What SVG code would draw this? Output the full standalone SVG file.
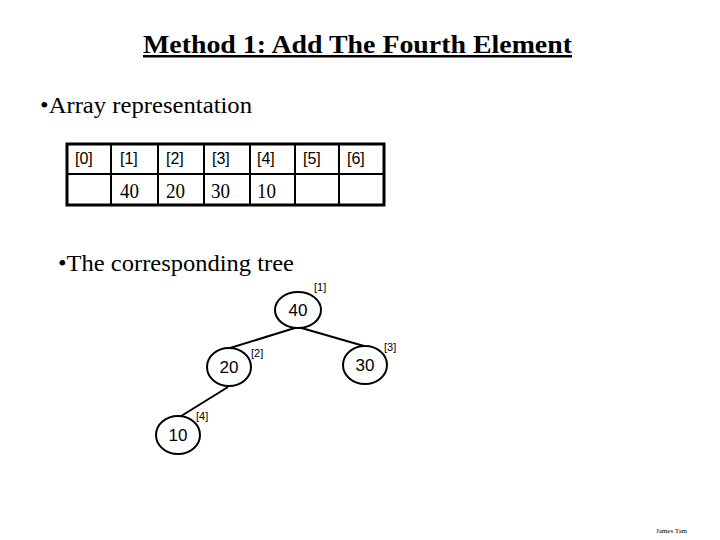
<svg xmlns="http://www.w3.org/2000/svg" width="720" height="540" viewBox="0 0 720 540">
<style>
.serif{font-family:"Liberation Serif","Times New Roman",serif;fill:#000}
.sans{font-family:"Liberation Sans",Arial,sans-serif;fill:#000}
.idx{font-size:16px}
.val{font-size:21px}
.node ellipse{fill:#fff;stroke:#000;stroke-width:2}
.node text{font-family:"Liberation Sans",Arial,sans-serif;font-size:17px;text-anchor:middle}
.lbl{font-family:"Liberation Sans",Arial,sans-serif;font-size:11px}
.edge{stroke:#000;stroke-width:2;fill:none}
</style>
<rect width="720" height="540" fill="#fff"/>
<text class="serif" x="143" y="53" font-size="25" font-weight="bold" text-decoration="underline" textLength="429" lengthAdjust="spacingAndGlyphs">Method 1: Add The Fourth Element</text>
<text class="serif" x="40" y="113" font-size="24" textLength="212" lengthAdjust="spacingAndGlyphs">•Array representation</text>
<g id="array">
<rect x="67" y="144" width="317" height="61" fill="#fff" stroke="#000" stroke-width="3"/>
<line x1="67" y1="174" x2="384" y2="174" stroke="#000" stroke-width="2"/>
<g stroke="#000" stroke-width="2">
<line x1="111" y1="144" x2="111" y2="205"/>
<line x1="158" y1="144" x2="158" y2="205"/>
<line x1="204" y1="144" x2="204" y2="205"/>
<line x1="250" y1="144" x2="250" y2="205"/>
<line x1="295" y1="144" x2="295" y2="205"/>
<line x1="339" y1="144" x2="339" y2="205"/>
</g>
<g class="sans idx">
<text x="75" y="164">[0]</text>
<text x="120" y="164">[1]</text>
<text x="166" y="164">[2]</text>
<text x="212" y="164">[3]</text>
<text x="257" y="164">[4]</text>
<text x="303" y="164">[5]</text>
<text x="347" y="164">[6]</text>
</g>
<g class="serif val">
<text x="120" y="198" textLength="19" lengthAdjust="spacingAndGlyphs">40</text>
<text x="166" y="198" textLength="19" lengthAdjust="spacingAndGlyphs">20</text>
<text x="211" y="198" textLength="19" lengthAdjust="spacingAndGlyphs">30</text>
<text x="257" y="198" textLength="19" lengthAdjust="spacingAndGlyphs">10</text>
</g>
</g>
<text class="serif" x="58" y="271" font-size="24" textLength="236" lengthAdjust="spacingAndGlyphs">•The corresponding tree</text>
<g id="connectors">
<line class="edge" x1="298" y1="327" x2="230" y2="348"/>
<line class="edge" x1="298" y1="327" x2="364" y2="346"/>
<line class="edge" x1="228" y1="387" x2="178" y2="418"/>
</g>
<g id="n1" class="node"><ellipse cx="298" cy="310" rx="23" ry="18"/><text x="298" y="316">40</text></g>
<g id="n2" class="node"><ellipse cx="229" cy="367" rx="22" ry="19"/><text x="229" y="373">20</text></g>
<g id="n3" class="node"><ellipse cx="365" cy="365" rx="22" ry="19"/><text x="365" y="371">30</text></g>
<g id="n4" class="node"><ellipse cx="178" cy="435" rx="22" ry="19"/><text x="178" y="441">10</text></g>
<text class="lbl" x="314" y="291">[1]</text>
<text class="lbl" x="251" y="357">[2]</text>
<text class="lbl" x="384" y="351">[3]</text>
<text class="lbl" x="196" y="420">[4]</text>
<text class="serif" x="656" y="533" font-size="7">James Tam</text>
</svg>
